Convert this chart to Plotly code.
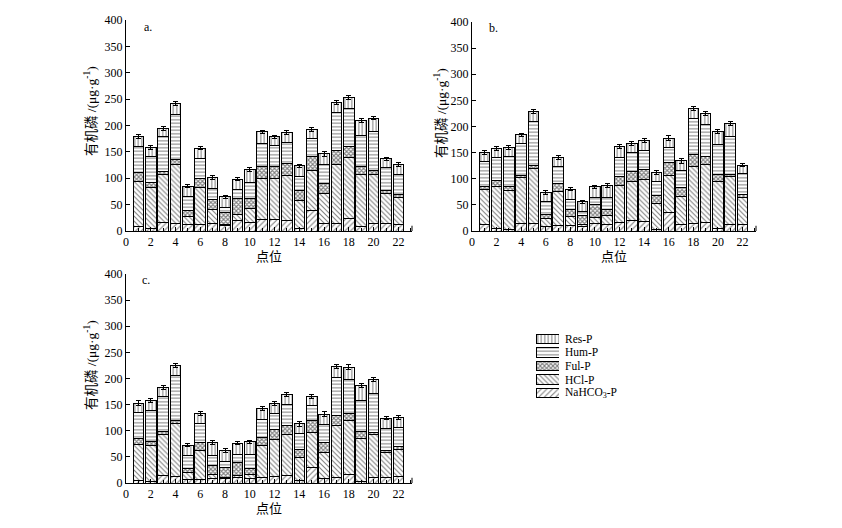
import plotly.graph_objects as go

points = list(range(1, 23))
series_names = ["NaHCO<sub>3</sub>-P", "HCl-P", "Ful-P", "Hum-P", "Res-P"]
patterns = ["/", "\\", "x", "-", "|"]

# Panel a
a_nahco3 = [8, 4, 17, 15, 12, 13, 15, 10, 19, 17, 21, 21, 19, 5, 38, 15, 15, 24, 8, 15, 14, 12]
a_hcl = [85, 79, 90, 111, 16, 69, 25, 2, 13, 26, 79, 79, 87, 53, 77, 56, 112, 116, 99, 93, 57, 52]
a_ful = [18, 9, 5, 9, 10, 18, 20, 24, 30, 19, 22, 23, 22, 19, 27, 20, 25, 20, 15, 6, 6, 5]
a_hum = [50, 50, 68, 85, 27, 38, 20, 9, 16, 30, 43, 39, 39, 27, 33, 35, 72, 72, 60, 74, 43, 39]
a_res = [18, 17, 15, 21, 20, 19, 21, 20, 20, 24, 23, 17, 20, 20, 18, 20, 19, 21, 28, 26, 17, 18]
a_err = [4, 4, 4, 4, 3, 3, 4, 3, 3, 4, 3, 3, 4, 3, 4, 4, 4, 4, 4, 3, 3, 4]

# Panel b
b_nahco3 = [13, 5, 3, 15, 15, 8, 10, 10, 8, 15, 12, 17, 20, 18, 3, 35, 12, 14, 17, 5, 12, 12]
b_hcl = [67, 80, 75, 87, 105, 15, 65, 18, 4, 10, 18, 71, 74, 80, 49, 72, 54, 110, 111, 90, 92, 52]
b_ful = [5, 11, 8, 4, 5, 9, 15, 14, 18, 25, 11, 16, 19, 20, 16, 25, 17, 22, 14, 13, 4, 6]
b_hum = [48, 45, 56, 62, 85, 24, 33, 18, 7, 15, 24, 37, 37, 37, 26, 28, 32, 70, 61, 57, 72, 40]
b_res = [17, 17, 18, 16, 19, 18, 17, 20, 19, 20, 22, 21, 18, 18, 18, 18, 19, 19, 22, 25, 26, 16]
b_err = [4, 4, 4, 3, 4, 4, 4, 3, 3, 3, 4, 4, 4, 4, 4, 4, 4, 4, 4, 4, 4, 3]

# Panel c
c_nahco3 = [4, 2, 14, 12, 6, 7, 8, 8, 10, 8, 10, 12, 15, 5, 30, 9, 10, 17, 2, 10, 10, 12]
c_hcl = [69, 70, 79, 101, 14, 56, 9, 2, 5, 9, 62, 72, 77, 43, 67, 50, 100, 103, 83, 83, 48, 53]
c_ful = [13, 8, 5, 7, 7, 15, 16, 19, 25, 10, 16, 18, 18, 16, 23, 19, 20, 13, 13, 4, 5, 5]
c_hum = [48, 59, 67, 85, 26, 36, 20, 12, 15, 28, 33, 31, 40, 31, 28, 34, 71, 66, 59, 74, 42, 37]
c_res = [19, 19, 18, 20, 19, 19, 24, 21, 21, 24, 21, 19, 20, 18, 17, 20, 22, 23, 29, 27, 19, 19]
c_err = [4, 4, 4, 4, 3, 4, 4, 4, 3, 3, 4, 4, 4, 4, 4, 4, 4, 4, 4, 4, 3, 4]

panels = [
    ("a.", [a_nahco3, a_hcl, a_ful, a_hum, a_res], a_err, "x", "y"),
    ("b.", [b_nahco3, b_hcl, b_ful, b_hum, b_res], b_err, "x2", "y2"),
    ("c.", [c_nahco3, c_hcl, c_ful, c_hum, c_res], c_err, "x3", "y3"),
]

FONT = "Liberation Serif, Times New Roman, Noto Sans CJK SC, serif"
W, H = 842, 528
OFF = 8  # page body margin

def px_x(p):
    return (p - OFF) / W

def px_y(p):
    return 1 - (p - OFF) / H

pat_size = {"/": 4, "\\": 3.5, "x": 3, "-": 3.5, "|": 3.5}
pat_sol = {"/": 0.28, "\\": 0.3, "x": 0.6, "-": 0.3, "|": 0.3}

def make_marker(pat):
    return dict(color="white", line=dict(color="black", width=1),
                pattern=dict(shape=pat, fgcolor="black", bgcolor="white",
                             size=pat_size[pat], solidity=pat_sol[pat]))

fig = go.Figure()

for label, comps, err, xa, ya in panels:
    for i, (name, vals) in enumerate(zip(series_names, comps)):
        fig.add_trace(go.Bar(
            x=points, y=vals, name=name, xaxis=xa, yaxis=ya,
            width=0.86, showlegend=False,
            marker=make_marker(patterns[i]),
            error_y=dict(type="data", array=err, visible=(i == 4),
                         color="black", thickness=1, width=2.5),
        ))

# Legend built as a tiny subplot of horizontal swatches
leg_names = series_names[::-1]
leg_patterns = patterns[::-1]
leg_pos = [4, 3, 2, 1, 0]
for name, pat, pos in zip(leg_names, leg_patterns, leg_pos):
    fig.add_trace(go.Bar(
        x=[1], y=[pos], orientation="h", width=0.68, base=0,
        xaxis="x4", yaxis="y4", showlegend=False, hoverinfo="skip",
        marker=make_marker(pat),
    ))
    fig.add_annotation(x=px_x(563), xref="paper", y=pos, yref="y4",
                       text=name, showarrow=False, xanchor="left",
                       font=dict(family=FONT, size=11.5, color="black"))

axis_common = dict(showline=True, linecolor="black", linewidth=1,
                   showgrid=False, zeroline=False, ticks="inside",
                   ticklen=4, tickcolor="black", automargin=False,
                   tickfont=dict(family=FONT, size=12, color="black"))

domains = {
    "a": ([px_x(126), px_x(412)], [px_y(231), px_y(20)]),
    "b": ([px_x(472), px_x(756)], [px_y(231), px_y(22)]),
    "c": ([px_x(126), px_x(412)], [px_y(483), px_y(274)]),
}

ytitle = "有机磷 /(μg·g<sup>-1</sup>)"
layout = dict(
    width=W, height=H, paper_bgcolor="white", plot_bgcolor="white",
    margin=dict(l=0, r=0, t=0, b=0, autoexpand=False), barmode="stack", bargap=0.14,
    font=dict(family=FONT, size=12, color="black"),
)
for key, (xa, ya) in zip(["a", "b", "c"], [("xaxis", "yaxis"), ("xaxis2", "yaxis2"), ("xaxis3", "yaxis3")]):
    xd, yd = domains[key]
    anchor_y = ya.replace("axis", "")
    anchor_x = xa.replace("axis", "")
    layout[xa] = dict(axis_common, domain=xd, range=[0, 23.1], tick0=0, dtick=2,
                      anchor=anchor_y,
                      minor=dict(dtick=1, tick0=0, ticks="inside", ticklen=3, tickcolor="black"),
                      title=dict(text="点位", standoff=3,
                                 font=dict(family=FONT, size=13, color="black")))
    layout[ya] = dict(axis_common, domain=yd, range=[0, 400], tick0=0, dtick=50,
                      anchor=anchor_x)

layout["xaxis4"] = dict(domain=[px_x(536), px_x(559)], range=[0, 1], visible=False,
                        anchor="y4", fixedrange=True)
layout["yaxis4"] = dict(domain=[px_y(400), px_y(332)], range=[-0.5, 4.5], visible=False,
                        anchor="x4", fixedrange=True)

fig.update_layout(**layout)

# y-axis titles
for x, y in [(90, 111), (440, 113), (90, 365)]:
    fig.add_annotation(x=px_x(x), y=px_y(y), xref="paper", yref="paper",
                       text=ytitle, showarrow=False, textangle=-90,
                       xanchor="center", yanchor="middle",
                       font=dict(family=FONT, size=13.5, color="black"))

# panel labels
for text, x, y in [("a.", 142, 27), ("b.", 487, 28), ("c.", 140, 280)]:
    fig.add_annotation(x=px_x(x), y=px_y(y), xref="paper", yref="paper",
                       text=text, showarrow=False, xanchor="left", yanchor="middle",
                       font=dict(family=FONT, size=12, color="black"))

# small right-end stubs on x axes
for xr, yr in [("x domain", "y domain"), ("x2 domain", "y2 domain"), ("x3 domain", "y3 domain")]:
    fig.add_shape(type="line", xref=xr, yref=yr, x0=1, x1=1, y0=0, y1=0.025,
                  line=dict(color="black", width=1))

fig.write_html("out.html")
